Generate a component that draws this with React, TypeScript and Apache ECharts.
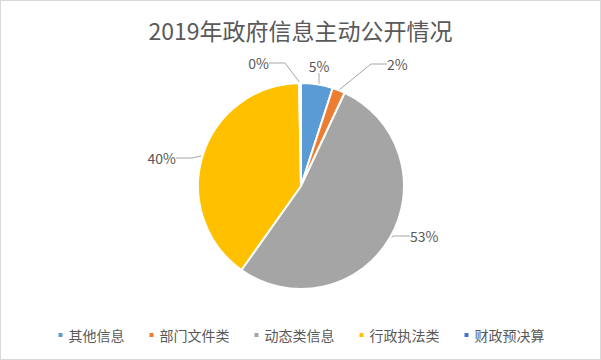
import React, { useEffect, useRef } from "react";
import * as echarts from "echarts";

const title = "2019年政府信息主动公开情况";
const categories = ["其他信息", "部门文件类", "动态类信息", "行政执法类", "财政预决算"];
const values = [5, 2, 53, 40, 0.3];
const colors = ["#5B9BD5", "#ED7D31", "#A5A5A5", "#FFC000", "#4472C4"];

// label anchor placement (Excel "best fit" style)
const labelPlace: Record<number, { x: number; y: number; align: string }> = {
  0: { x: 318, y: 65, align: "center" },
  1: { x: 386, y: 63, align: "left" },
  2: { x: 409, y: 235, align: "left" },
  3: { x: 175, y: 157, align: "right" },
  4: { x: 268, y: 62, align: "right" },
};

export default function App() {
  const ref = useRef<HTMLDivElement>(null);
  useEffect(() => {
    if (!ref.current) return;
    const chart = echarts.init(ref.current, undefined, { renderer: "svg" });
    const font = '"Noto Sans CJK SC", "Noto Sans", sans-serif';
    chart.setOption({
      animation: false,
      color: colors,
      title: {
        text: title,
        left: "center",
        top: 12,
        textStyle: { fontFamily: font, fontSize: 23, fontWeight: "normal", color: "#595959" },
      },
      legend: {
        bottom: 12,
        left: "center",
        icon: "rect",
        itemWidth: 6,
        itemHeight: 6,
        itemGap: 23,
        textStyle: { fontFamily: font, fontSize: 14, color: "#595959" },
        data: categories,
      },
      series: [
        {
          type: "pie",
          center: [300, 185],
          radius: [0, 103],
          startAngle: 90,
          clockwise: true,
          itemStyle: { borderColor: "#fff", borderWidth: 2 },
          label: {
            show: true,
            position: "outside",
            formatter: (p: any) => Math.round(p.percent) + "%",
            fontFamily: font,
            fontSize: 14,
            color: "#595959",
          },
          labelLine: { show: true, length: 14, length2: 16, lineStyle: { color: "#A6A6A6", width: 1 } },
          labelLayout: (p: any) => {
            const pl = labelPlace[p.dataIndex];
            if (!pl) return {};
            return { x: pl.x, y: pl.y, align: pl.align, verticalAlign: "middle" };
          },
          data: categories.map((c, i) => ({ name: c, value: values[i] })),
        },
      ],
    });
    return () => chart.dispose();
  }, []);
  return (
    <div
      style={{
        position: "fixed",
        left: 0,
        top: 0,
        width: 599,
        height: 358,
        border: "1px solid #D9D9D9",
        background: "#fff",
      }}
    >
      <div ref={ref} style={{ width: 599, height: 358 }} />
    </div>
  );
}
